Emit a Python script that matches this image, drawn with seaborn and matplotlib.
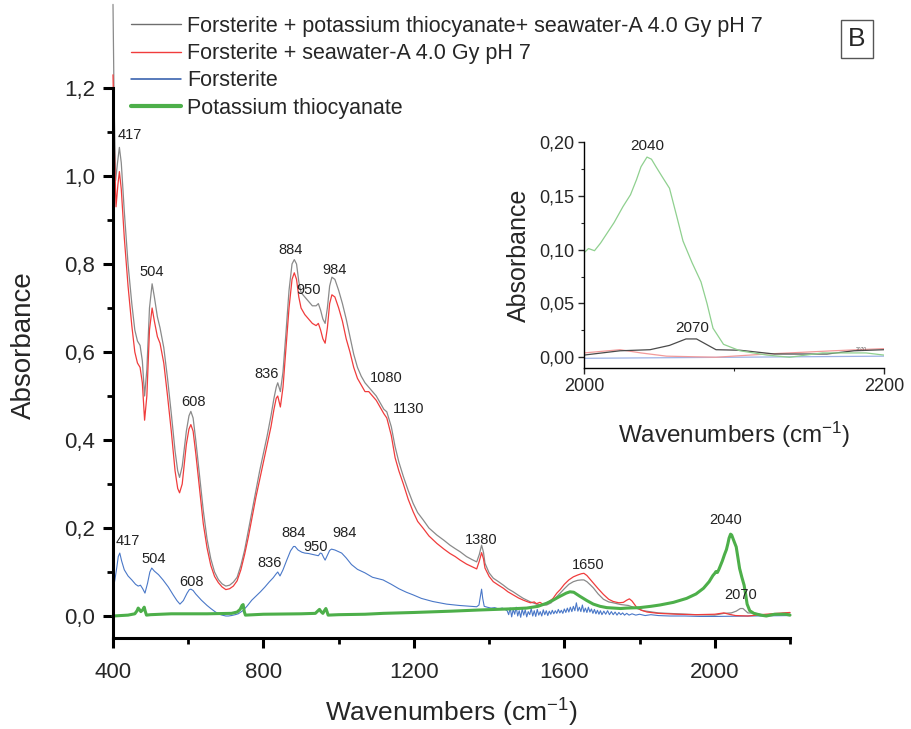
import numpy as np
import pandas as pd
import matplotlib
matplotlib.use("Agg")
import matplotlib.pyplot as plt
import seaborn as sns
from matplotlib.lines import Line2D
from matplotlib.ticker import FixedLocator, FuncFormatter

# ---------------- data ----------------
grey_wn = [400, 403, 407, 412, 417, 422, 430, 440, 450, 458, 465, 472, 478, 484, 490, 497, 504, 510, 518, 525,
           535, 545, 555, 565, 572, 577, 584, 595, 602, 607, 613, 620, 630, 640, 650, 660, 670, 680, 690, 700,
           710, 720, 730, 740, 750, 760, 770, 780, 790, 800, 810, 820, 828, 834, 838, 845, 852, 860, 868, 876,
           882, 888, 894, 900, 910, 920, 930, 940, 946, 952, 958, 964, 970, 976, 982, 990, 1000, 1010, 1020, 1030,
           1040, 1050, 1060, 1070, 1080, 1090, 1100, 1110, 1120, 1128, 1140, 1150, 1160, 1172, 1185, 1198, 1210, 1225, 1240, 1261,
           1280, 1296, 1310, 1323, 1340, 1355, 1367, 1374, 1380, 1385, 1389, 1400, 1411, 1425, 1438, 1450, 1464, 1478, 1491, 1510,
           1526, 1540, 1553, 1565, 1575, 1589, 1600, 1612, 1624, 1635, 1645, 1652, 1660, 1670, 1677, 1690, 1704, 1718, 1730, 1750,
           1770, 1790, 1810, 1850, 1900, 1950, 2000, 2024, 2044, 2057, 2068, 2075, 2088, 2104, 2127, 2162, 2180, 2200]
grey_abs = [1.39, 1.16, 0.99, 1.03, 1.065, 1.03, 0.92, 0.80, 0.71, 0.65, 0.625, 0.615, 0.58, 0.50, 0.56, 0.70, 0.755, 0.725, 0.68, 0.655,
            0.61, 0.54, 0.46, 0.375, 0.33, 0.315, 0.34, 0.42, 0.455, 0.465, 0.45, 0.40, 0.32, 0.24, 0.175, 0.13, 0.10, 0.083, 0.073, 0.068,
            0.07, 0.077, 0.088, 0.115, 0.15, 0.195, 0.24, 0.285, 0.33, 0.37, 0.41, 0.455, 0.495, 0.52, 0.53, 0.51, 0.555, 0.645, 0.74, 0.80,
            0.81, 0.80, 0.76, 0.735, 0.725, 0.715, 0.705, 0.705, 0.71, 0.695, 0.675, 0.665, 0.70, 0.75, 0.77, 0.765, 0.74, 0.71, 0.675, 0.635,
            0.595, 0.565, 0.545, 0.53, 0.52, 0.51, 0.50, 0.485, 0.47, 0.464, 0.43, 0.385, 0.35, 0.317, 0.285, 0.256, 0.235, 0.218, 0.20, 0.184,
            0.172, 0.161, 0.153, 0.146, 0.135, 0.128, 0.123, 0.14, 0.161, 0.145, 0.12, 0.098, 0.086, 0.078, 0.07, 0.062, 0.055, 0.047, 0.04, 0.032,
            0.027, 0.025, 0.025, 0.03, 0.04, 0.052, 0.062, 0.072, 0.078, 0.081, 0.082, 0.082, 0.078, 0.07, 0.064, 0.05, 0.038, 0.032, 0.03, 0.026,
            0.024, 0.018, 0.012, 0.007, 0.005, 0.003, 0.002, 0.006, 0.007, 0.011, 0.017, 0.017, 0.007, 0.0065, 0.003, 0.003, 0.006, 0.007]

red_wn = [400, 404, 408, 413, 417, 422, 430, 440, 450, 458, 465, 472, 478, 484, 490, 497, 504, 510, 518, 525,
          535, 545, 555, 565, 572, 577, 584, 595, 602, 607, 613, 620, 630, 640, 650, 660, 670, 680, 690, 700,
          710, 720, 730, 740, 750, 760, 770, 780, 790, 800, 810, 820, 828, 834, 838, 845, 852, 860, 868, 876,
          882, 888, 894, 900, 910, 920, 930, 940, 946, 952, 958, 964, 970, 976, 982, 990, 1000, 1010, 1020, 1030,
          1040, 1050, 1060, 1070, 1080, 1090, 1100, 1110, 1120, 1128, 1140, 1150, 1160, 1172, 1185, 1198, 1210, 1225, 1240, 1261,
          1280, 1296, 1310, 1323, 1340, 1355, 1367, 1374, 1380, 1385, 1389, 1400, 1411, 1425, 1438, 1450, 1464, 1478, 1491, 1500,
          1510, 1520, 1526, 1535, 1545, 1553, 1560, 1570, 1580, 1589, 1600, 1612, 1624, 1635, 1645, 1652, 1660, 1670, 1677, 1690,
          1704, 1718, 1730, 1745, 1757, 1766, 1773, 1780, 1792, 1805, 1820, 1850, 1900, 1950, 2000, 2024, 2038, 2055, 2088, 2122,
          2166, 2200]
red_abs = [1.23, 1.05, 0.93, 0.98, 1.01, 0.97, 0.86, 0.75, 0.66, 0.60, 0.575, 0.565, 0.53, 0.445, 0.50, 0.65, 0.70, 0.67, 0.635, 0.62,
           0.575, 0.50, 0.42, 0.33, 0.29, 0.28, 0.30, 0.39, 0.425, 0.435, 0.42, 0.37, 0.29, 0.21, 0.155, 0.115, 0.09, 0.076, 0.066, 0.06,
           0.062, 0.068, 0.08, 0.105, 0.14, 0.18, 0.225, 0.27, 0.31, 0.35, 0.39, 0.43, 0.47, 0.495, 0.50, 0.475, 0.52, 0.61, 0.70, 0.765,
           0.78, 0.765, 0.725, 0.70, 0.685, 0.675, 0.665, 0.66, 0.665, 0.65, 0.63, 0.62, 0.655, 0.71, 0.73, 0.725, 0.70, 0.67, 0.63, 0.60,
           0.565, 0.54, 0.525, 0.51, 0.51, 0.50, 0.49, 0.475, 0.46, 0.45, 0.41, 0.36, 0.33, 0.30, 0.265, 0.237, 0.215, 0.199, 0.182, 0.165,
           0.152, 0.142, 0.135, 0.127, 0.118, 0.112, 0.107, 0.125, 0.144, 0.13, 0.109, 0.09, 0.078, 0.07, 0.063, 0.055, 0.048, 0.041, 0.036, 0.033,
           0.03, 0.032, 0.028, 0.031, 0.026, 0.029, 0.033, 0.04, 0.052, 0.06, 0.072, 0.082, 0.089, 0.093, 0.096, 0.097, 0.092, 0.082, 0.075, 0.062,
           0.049, 0.038, 0.033, 0.03, 0.031, 0.036, 0.039, 0.034, 0.02, 0.013, 0.009, 0.006, 0.004, 0.003, 0.004, 0.007, 0.004, 0.001, 0.0, 0.003,
           0.006, 0.008]

blue_wn = [400, 405, 410, 414, 418, 423, 430, 440, 450, 460, 467, 473, 479, 485, 492, 498, 503, 510, 521, 533,
           547, 560, 570, 578, 587, 597, 603, 607, 613, 620, 635, 650, 660, 671, 680, 690, 700, 707, 715, 725,
           733, 745, 757, 769, 780, 792, 804, 815, 826, 833, 838, 844, 852, 862, 872, 880, 884, 892, 902, 910,
           920, 930, 940, 946, 951, 955, 960, 964, 970, 976, 981, 990, 1000, 1008, 1020, 1034, 1050, 1070, 1090, 1118,
           1140, 1160, 1180, 1198, 1220, 1250, 1287, 1320, 1350, 1367, 1373, 1377, 1380, 1383, 1387, 1395, 1405, 1415, 1425, 1435,
           1442, 1448, 1452, 1456, 1460, 1464, 1468, 1472, 1476, 1480, 1484, 1488, 1492, 1496, 1500, 1504, 1508, 1512, 1516, 1520,
           1524, 1528, 1532, 1536, 1540, 1544, 1548, 1552, 1556, 1560, 1564, 1568, 1572, 1576, 1580, 1584, 1588, 1592, 1596, 1600,
           1604, 1608, 1612, 1616, 1620, 1624, 1628, 1632, 1636, 1640, 1644, 1648, 1652, 1656, 1660, 1664, 1668, 1672, 1676, 1680,
           1684, 1688, 1692, 1696, 1700, 1705, 1710, 1715, 1720, 1725, 1730, 1735, 1740, 1745, 1750, 1755, 1760, 1766, 1772, 1780,
           1790, 1800, 1815, 1830, 1850, 1880, 1920, 1960, 2000, 2100, 2200]
blue_abs = [0.06, 0.082, 0.11, 0.135, 0.143, 0.125, 0.105, 0.091, 0.082, 0.072, 0.068, 0.07, 0.062, 0.052, 0.075, 0.1, 0.109, 0.102, 0.094, 0.082,
            0.066, 0.048, 0.035, 0.027, 0.035, 0.052, 0.06, 0.061, 0.058, 0.05, 0.036, 0.024, 0.017, 0.01, 0.005, 0.002, 0.0, 0.0, 0.001, 0.003,
            0.005, 0.012, 0.023, 0.036, 0.045, 0.055, 0.066, 0.077, 0.087, 0.095, 0.1, 0.091, 0.105, 0.127, 0.148, 0.158, 0.158, 0.15, 0.145, 0.143,
            0.142, 0.14, 0.138, 0.137, 0.143, 0.142, 0.133, 0.127, 0.138, 0.149, 0.152, 0.15, 0.146, 0.143, 0.132, 0.117, 0.106, 0.098, 0.088, 0.082,
            0.072, 0.062, 0.054, 0.048, 0.04, 0.033, 0.027, 0.024, 0.022, 0.021, 0.025, 0.045, 0.061, 0.04, 0.022, 0.02, 0.018, 0.019, 0.016, 0.018,
            0.015, 0.012, 0.003, 0.018, -0.002, 0.015, 0.004, 0.02, 0.0, 0.012, -0.003, 0.016, 0.002, 0.014, -0.002, 0.01, 0.003, 0.017, 0.0, 0.012,
            -0.001, 0.015, 0.002, 0.01, 0.0, 0.014, 0.003, 0.012, 0.001, 0.011, 0.004, 0.013, 0.005, 0.012, 0.006, 0.015, 0.007, 0.013, 0.006, 0.016,
            0.008, 0.018, 0.009, 0.02, 0.01, 0.022, 0.012, 0.03, 0.011, 0.02, 0.01, 0.025, 0.009, 0.018, 0.008, 0.02, 0.009, 0.016, 0.006, 0.015,
            0.005, 0.013, 0.004, 0.012, 0.003, 0.011, 0.004, 0.012, 0.003, 0.01, 0.003, 0.009, 0.002, 0.008, 0.003, 0.007, 0.002, 0.006, 0.002, 0.005,
            0.002, 0.004, 0.001, 0.003, 0.001, 0.0, 0.0, -0.001, -0.001, 0.0, 0.001]

green_wn = [400, 420, 440, 458, 464, 467, 470, 474, 479, 483, 486, 489, 500, 555, 650, 715, 730, 738, 743, 746,
            749, 752, 800, 900, 938, 944, 949, 953, 958, 962, 966, 969, 972, 1000, 1070, 1118, 1200, 1300, 1372, 1450,
            1500, 1530, 1553, 1570, 1589, 1605, 1615, 1625, 1641, 1660, 1677, 1695, 1713, 1750, 1766, 1800, 1830, 1854, 1890, 1925,
            1950, 1970, 1985, 1995, 2000, 2003, 2007, 2011, 2020, 2026, 2031, 2035, 2038, 2042, 2045, 2048, 2052, 2057, 2062, 2066,
            2072, 2078, 2082, 2086, 2093, 2104, 2122, 2137, 2159, 2177, 2188, 2200]
green_abs = [0.0, 0.001, 0.002, 0.005, 0.012, 0.018, 0.015, 0.01, 0.014, 0.02, 0.01, 0.002, 0.003, 0.005, 0.005, 0.006, 0.009, 0.015, 0.024, 0.026,
             0.01, 0.002, 0.004, 0.005, 0.006, 0.011, 0.015, 0.01, 0.006, 0.012, 0.017, 0.01, 0.002, 0.003, 0.004, 0.006, 0.008, 0.011, 0.0136, 0.016,
             0.018, 0.022, 0.029, 0.036, 0.045, 0.052, 0.055, 0.054, 0.045, 0.035, 0.027, 0.022, 0.019, 0.017, 0.018, 0.019, 0.022, 0.025, 0.031, 0.04,
             0.05, 0.063, 0.078, 0.092, 0.097, 0.101, 0.099, 0.106, 0.125, 0.14, 0.151, 0.165, 0.177, 0.186, 0.184, 0.177, 0.168, 0.157, 0.13, 0.108,
             0.088, 0.07, 0.05, 0.027, 0.012, 0.006, 0.002, 0.0, 0.004, 0.004, 0.004, 0.002]

series_labels = ["Forsterite + potassium thiocyanate+ seawater-A 4.0 Gy pH 7",
                 "Forsterite + seawater-A 4.0 Gy pH 7",
                 "Forsterite",
                 "Potassium thiocyanate"]

# peak labels (text, wavenumber position, absorbance position)
main_peak_text = ["417", "504", "608", "836", "884", "950", "984", "1080", "1130", "1380", "1650", "2040", "2070"]
main_peak_pos = [(445, 1.093), (504, 0.782), (613, 0.486), (807, 0.55), (871, 0.832), (921, 0.741), (988, 0.786),
                 (1126, 0.541), (1187, 0.47), (1378, 0.173), (1663, 0.116), (2030, 0.218), (2070, 0.048)]
blue_peak_text = ["417", "504", "608", "836", "884", "950", "984"]
blue_peak_pos = [(440, 0.170), (509, 0.13), (610, 0.077), (817, 0.12), (879, 0.189), (940, 0.157), (1017, 0.189)]
inset_peak_text = ["2040", "2070"]
inset_peak_pos = [(2042, 0.196), (2072, 0.027)]

# ---------------- style ----------------
sns.set_theme(style="ticks")
plt.rcParams['font.family'] = ['Liberation Sans', 'DejaVu Sans']
plt.rcParams['mathtext.fontset'] = 'custom'
plt.rcParams['mathtext.rm'] = 'Liberation Sans'
plt.rcParams['mathtext.it'] = 'Liberation Sans:italic'
plt.rcParams['mathtext.bf'] = 'Liberation Sans:bold'

W, H = 911, 729
fig = plt.figure(figsize=(W / 100, H / 100), dpi=100)
fig.patch.set_facecolor('white')

def fx(px):
    return px / W

def fy(py):
    return 1 - py / H

ax = fig.add_axes([fx(113), fy(638), fx(790) - fx(113), fy(88) - fy(638)])
ax.set_facecolor('white')

main_colors = ["#8a8a8a", "#f03c3c", "#4a78c8", "#4daf4a"]
main_lw = [0.9, 0.9, 0.8, 2.2]
datasets = [(grey_wn, grey_abs), (red_wn, red_abs), (blue_wn, blue_abs), (green_wn, green_abs)]

for i in [2, 0, 1, 3]:
    wn, ab = datasets[i]
    df = pd.DataFrame({"wn": wn, "abs": ab})
    sns.lineplot(data=df, x="wn", y="abs", ax=ax, color=main_colors[i], linewidth=main_lw[i],
                 estimator=None, sort=False, clip_on=False, legend=False)

ax.set_xlim(400, 2200)
ax.set_ylim(-0.05, 1.2)
for s in ['top', 'right']:
    ax.spines[s].set_visible(False)
for s in ['left', 'bottom']:
    ax.spines[s].set_linewidth(2.2)
    ax.spines[s].set_color('black')
ax.xaxis.set_major_locator(FixedLocator([400, 800, 1200, 1600, 2000]))
ax.xaxis.set_minor_locator(FixedLocator([600, 1000, 1400, 1800, 2200]))
ax.yaxis.set_major_locator(FixedLocator([0.0, 0.2, 0.4, 0.6, 0.8, 1.0, 1.2]))
ax.yaxis.set_minor_locator(FixedLocator([0.1, 0.3, 0.5, 0.7, 0.9, 1.1]))
ax.yaxis.set_major_formatter(FuncFormatter(lambda v, p: f"{v:.1f}".replace('.', ',')))
ax.tick_params(axis='both', which='major', direction='out', length=7, width=2.2, labelsize=16, pad=6, color='black')
ax.tick_params(axis='x', which='major', pad=10)
ax.tick_params(axis='both', which='minor', direction='out', length=4.5, width=2.0, color='black')
ax.set_xlabel(r"Wavenumbers (cm$^{-1}$)", fontsize=19, labelpad=10)
ax.set_ylabel("Absorbance", fontsize=20)
ax.yaxis.set_label_coords(-0.112, 0.533)

for t, (x, y) in zip(main_peak_text, main_peak_pos):
    ax.text(x, y, t, fontsize=10.5, ha='center', va='center', color='#222222')
for t, (x, y) in zip(blue_peak_text, blue_peak_pos):
    ax.text(x, y, t, fontsize=10.5, ha='center', va='center', color='#222222')

# legend with explicit handles
legend_colors = ["#6e6e6e", "#f03c3c", "#2a56a8", "#4daf4a"]
legend_lw = [1.0, 1.0, 1.1, 3.0]
leg_handles = [Line2D([], [], color=legend_colors[i], linewidth=legend_lw[i]) for i in range(4)]
leg = fig.legend(leg_handles, series_labels,
                 loc='upper left', bbox_to_anchor=(fx(131), fy(16)), frameon=False,
                 fontsize=15.5, handlelength=2.3, handletextpad=0.3, labelspacing=0.29,
                 borderpad=0, borderaxespad=0)

# panel letter
fig.text(fx(857), fy(39), "B", fontsize=19, ha='center', va='center',
         bbox=dict(boxstyle='square,pad=0.28', facecolor='white', edgecolor='#555555', linewidth=1.0))

# ---------------- inset ----------------
axi = fig.add_axes([fx(584), fy(368), fx(884) - fx(584), fy(142) - fy(368)])
axi.set_facecolor('white')
inset_colors = ["#4a4a4a", "#f29a9a", "#9db2e6", "#8fd08f"]
for i in [2, 1, 0, 3]:
    wn, ab = datasets[i]
    df = pd.DataFrame({"wn": wn, "abs": ab})
    sns.lineplot(data=df, x="wn", y="abs", ax=axi, color=inset_colors[i], linewidth=0.9,
                 estimator=None, sort=False, legend=False)
axi.set_xlim(2000, 2200)
axi.set_ylim(-0.01, 0.20)
for s in ['top', 'right']:
    axi.spines[s].set_visible(False)
for s in ['left', 'bottom']:
    axi.spines[s].set_linewidth(1.0)
    axi.spines[s].set_color('black')
axi.xaxis.set_major_locator(FixedLocator([2000, 2200]))
axi.xaxis.set_minor_locator(FixedLocator([2100]))
axi.yaxis.set_major_locator(FixedLocator([0.0, 0.05, 0.10, 0.15, 0.20]))
axi.yaxis.set_minor_locator(FixedLocator([0.025, 0.075, 0.125, 0.175]))
axi.yaxis.set_major_formatter(FuncFormatter(lambda v, p: f"{v:.2f}".replace('.', ',')))
axi.tick_params(axis='both', which='major', direction='out', length=4, width=1.0, labelsize=13, pad=3)
axi.tick_params(axis='both', which='minor', direction='out', length=2.5, width=0.8)
axi.set_xlabel(r"Wavenumbers (cm$^{-1}$)", fontsize=17.5, labelpad=18)
axi.set_ylabel("Absorbance", fontsize=18, labelpad=6)
for t, (x, y) in zip(inset_peak_text, inset_peak_pos):
    axi.text(x, y, t, fontsize=11, ha='center', va='center', color='#222222')
axi.text(2185, 0.0075, "2070", fontsize=3.5, ha='center', va='center', color='#555555')

fig.savefig("out.png", dpi=100, facecolor='white')
